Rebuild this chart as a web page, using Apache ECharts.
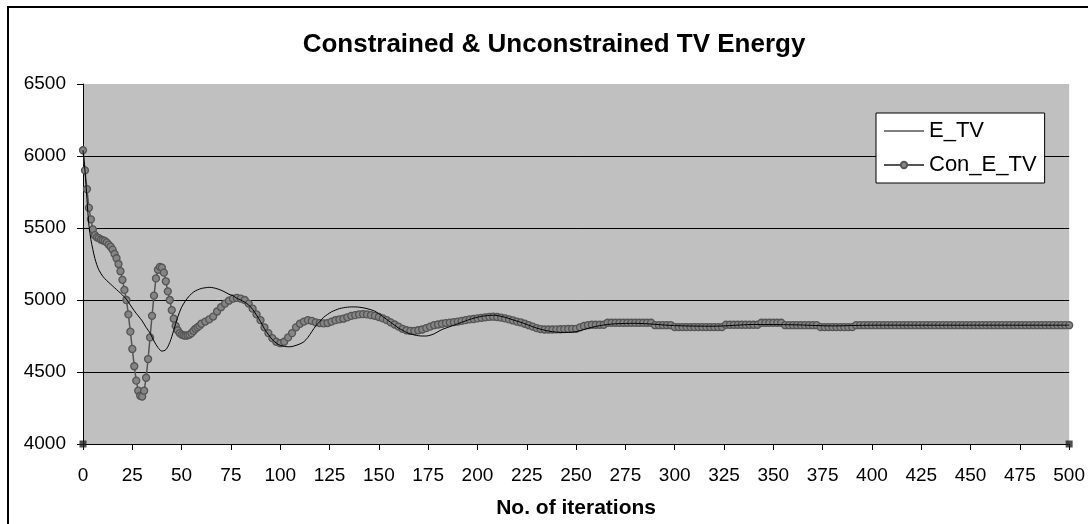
<!DOCTYPE html>
<html>
<head>
<meta charset="utf-8">
<title>Constrained & Unconstrained TV Energy</title>
<script src="https://cdn.jsdelivr.net/npm/echarts@6/dist/echarts.min.js"></script>
<style>
  html, body { margin: 0; padding: 0; background: #fff; }
  #main { width: 1088px; height: 524px; }
</style>
</head>
<body>
<div id="main"></div>
<script>
// axis ticks
var xTicks = [0, 500, 25];          // min, max, step
var yTicks = [4000, 6500, 500];

// Con_E_TV, one value per iteration for 0..60
var conEarly = [
  6040, 5900, 5770, 5640, 5560, 5490, 5450, 5435, 5430, 5420,
  5415, 5410, 5400, 5385, 5370, 5350, 5320, 5290, 5250, 5200,
  5140, 5070, 5000, 4900, 4780, 4660, 4540, 4440, 4370, 4335,
  4330, 4370, 4460, 4590, 4740, 4890, 5030, 5150, 5210, 5230,
  5225, 5190, 5130, 5060, 5000, 4930, 4870, 4820, 4790, 4770,
  4760, 4755, 4752, 4755, 4760, 4770, 4785, 4800, 4810, 4820,
  4835
];
// Con_E_TV, every 2nd iteration from 62 to 500
var conLate = [
  4850, 4865, 4885, 4920, 4950, 4975, 4995, 5010, 5015, 5010,   // 62-80
  5000, 4975, 4940, 4900, 4860, 4810, 4770, 4735, 4710, 4700,   // 82-100
  4710, 4740, 4770, 4810, 4835, 4850, 4860, 4855, 4845, 4840,   // 102-120
  4838, 4840, 4850, 4860, 4865, 4870, 4880, 4890, 4895, 4900,   // 122-140
  4902, 4900, 4895, 4890, 4882, 4872, 4860, 4845, 4830, 4815,   // 142-160
  4800, 4790, 4785, 4785, 4790, 4795, 4805, 4815, 4825, 4830,   // 162-180
  4835, 4840, 4843, 4846, 4850, 4855, 4860, 4865, 4868, 4872,   // 182-200
  4876, 4880, 4883, 4884, 4882, 4878, 4872, 4865, 4858, 4850,   // 202-220
  4844, 4835, 4825, 4815, 4805, 4798, 4795, 4795, 4795, 4796,   // 222-240
  4797, 4798, 4799, 4800, 4800, 4810, 4820, 4825, 4828, 4828,   // 242-260
  4828, 4828, 4842, 4842, 4842, 4842, 4842, 4842, 4842, 4842,   // 262-280
  4842, 4842, 4842, 4842, 4825, 4825, 4825, 4825, 4825, 4812,   // 282-300
  4812, 4812, 4812, 4812, 4812, 4812, 4812, 4812, 4812, 4812,   // 302-320
  4812, 4812, 4828, 4828, 4828, 4828, 4828, 4828, 4828, 4828,   // 322-340
  4828, 4842, 4842, 4842, 4842, 4842, 4842, 4825, 4825, 4825,   // 342-360
  4825, 4825, 4825, 4825, 4825, 4825, 4812, 4812, 4812, 4812,   // 362-380
  4812, 4812, 4812, 4812, 4812, 4825, 4825, 4825, 4825, 4825,   // 382-400
  4825, 4825, 4825, 4825, 4825, 4825, 4825, 4825, 4825, 4825,   // 402-420
  4825, 4825, 4825, 4825, 4825, 4825, 4825, 4825, 4825, 4825,   // 422-440
  4825, 4825, 4825, 4825, 4825, 4825, 4825, 4825, 4825, 4825,   // 442-460
  4825, 4825, 4825, 4825, 4825, 4825, 4825, 4825, 4825, 4825,   // 462-480
  4825, 4825, 4825, 4825, 4825, 4825, 4825, 4825, 4825, 4825    // 482-500
];

// E_TV (iteration, value)
var eIter = [
  0, 1, 2, 3, 4, 5, 6, 7, 8, 10, 12, 14, 16, 18, 20, 22, 24, 26, 28, 30,
  32, 34, 36, 38, 40, 42, 44, 46, 48, 50, 52, 54, 56, 58, 60, 62, 64, 66, 68, 70,
  72, 74, 76, 78, 80, 82, 84, 86, 88, 90, 92, 94, 96, 98, 100, 102, 104, 106, 108, 110,
  112, 114, 116, 118, 120, 122, 124, 126, 128, 130, 132, 134, 136, 138, 140, 142, 144, 146, 148, 150,
  152, 154, 156, 158, 160, 162, 164, 166, 168, 170, 172, 174, 176, 178, 180, 182, 184, 186, 188, 190,
  192, 194, 196, 198, 200, 202, 204, 206, 208, 210, 214, 218, 222, 226, 230, 234, 238, 242, 246, 250,
  254, 258, 262, 266, 270, 280, 300, 320, 340, 360, 380, 400, 450, 500
];
var eVals = [
  6040, 5900, 5700, 5520, 5420, 5350, 5290, 5245, 5210, 5165, 5135, 5110, 5085, 5060, 5035, 5005, 4965, 4925, 4890, 4855,
  4810, 4770, 4715, 4670, 4645, 4655, 4705, 4790, 4880, 4950, 4995, 5030, 5055, 5070, 5080, 5085, 5088, 5085, 5078, 5068,
  5055, 5040, 5030, 5012, 5000, 4985, 4965, 4935, 4895, 4850, 4800, 4760, 4725, 4700, 4685, 4678, 4675, 4677, 4685, 4695,
  4710, 4740, 4780, 4820, 4850, 4880, 4900, 4918, 4930, 4940, 4946, 4950, 4952, 4952, 4950, 4946, 4940, 4932, 4922, 4905,
  4885, 4865, 4845, 4825, 4805, 4790, 4775, 4765, 4757, 4752, 4750, 4750, 4755, 4765, 4780, 4795, 4805, 4815, 4825, 4835,
  4845, 4855, 4865, 4873, 4880, 4886, 4890, 4893, 4894, 4892, 4880, 4862, 4845, 4825, 4805, 4790, 4780, 4775, 4775, 4780,
  4795, 4810, 4822, 4830, 4835, 4838, 4822, 4818, 4830, 4828, 4820, 4825, 4825, 4825
];

// the two small handles at the bottom corners of the plot
var handleX = [0, 500];
var handleY = [4000, 4000];

var conData = [];
for (var i = 0; i < conEarly.length; i++) conData.push([i, conEarly[i]]);
for (var j = 0; j < conLate.length; j++) conData.push([62 + j * 2, conLate[j]]);

var eData = [];
for (var k = 0; k < eIter.length; k++) eData.push([eIter[k], eVals[k]]);

var handles = [];
for (var h = 0; h < handleX.length; h++) handles.push([handleX[h], handleY[h]]);

var font = 'Arial, "Liberation Sans", sans-serif';

var myChart = echarts.init(document.getElementById('main'));

var option = {
  backgroundColor: '#fff',
  animation: false,
  title: {
    text: 'Constrained & Unconstrained TV Energy',
    left: 549,
    top: 27,
    textAlign: 'center',
    textStyle: { fontFamily: font, fontSize: 26, fontWeight: 'bold', color: '#000' }
  },
  legend: {
    orient: 'vertical',
    left: 876,
    top: 113,
    data: [
      { name: 'E_TV', icon: 'path://M0,0 L40,0 L40,1 L0,1 Z' },
      'Con_E_TV'
    ],
    itemWidth: 40,
    itemHeight: 8,
    itemGap: 12,
    padding: [7, 8, 7, 7],
    backgroundColor: '#fff',
    borderColor: '#000',
    borderWidth: 1,
    borderRadius: 0,
    textStyle: { fontFamily: font, fontSize: 22, color: '#000' }
  },
  grid: {
    left: 83,
    right: 16,
    top: 84,
    bottom: 76,
    show: true,
    backgroundColor: '#c0c0c0',
    borderWidth: 0
  },
  xAxis: {
    type: 'value',
    min: xTicks[0],
    max: xTicks[1],
    interval: xTicks[2],
    name: 'No. of iterations',
    nameLocation: 'middle',
    nameGap: 54,
    nameTextStyle: { fontFamily: font, fontSize: 21, fontWeight: 'bold', color: '#000' },
    axisLine: { show: true, lineStyle: { color: '#000', width: 1 } },
    axisTick: { show: true, length: 6, lineStyle: { color: '#000' } },
    axisLabel: { fontFamily: font, fontSize: 19, color: '#000', margin: 22 },
    splitLine: { show: false }
  },
  yAxis: {
    type: 'value',
    min: yTicks[0],
    max: yTicks[1],
    interval: yTicks[2],
    axisLine: { show: true, lineStyle: { color: '#000', width: 1 } },
    axisTick: { show: true, length: 6, lineStyle: { color: '#000' } },
    axisLabel: {
      fontFamily: font, fontSize: 19, color: '#000', margin: 17,
      formatter: function (v) { return String(v); }
    },
    splitLine: { show: true, lineStyle: { color: ['#000', '#000', '#000', '#000', '#000', '#c0c0c0'], width: 1 } }
  },
  graphic: [{
    type: 'rect',
    shape: { x: 8, y: 7, width: 1100, height: 540 },
    style: { fill: 'none', stroke: '#000', lineWidth: 2 },
    silent: true
  }],
  series: [
    {
      name: 'E_TV',
      type: 'line',
      data: eData,
      symbol: 'none',
      smooth: 0.3,
      z: 3,
      lineStyle: { color: '#000', width: 1 },
      itemStyle: { color: '#000' }
    },
    {
      name: 'Con_E_TV',
      type: 'line',
      data: conData,
      symbol: 'circle',
      symbolSize: 7,
      z: 2,
      lineStyle: { color: '#555', width: 1.5 },
      itemStyle: { color: '#858585', borderColor: '#555', borderWidth: 1.3 }
    },
    {
      name: 'handles',
      type: 'scatter',
      data: handles,
      symbol: 'rect',
      symbolSize: 7,
      z: 5,
      itemStyle: { color: '#222' }
    }
  ]
};

myChart.setOption(option);
</script>
</body>
</html>
